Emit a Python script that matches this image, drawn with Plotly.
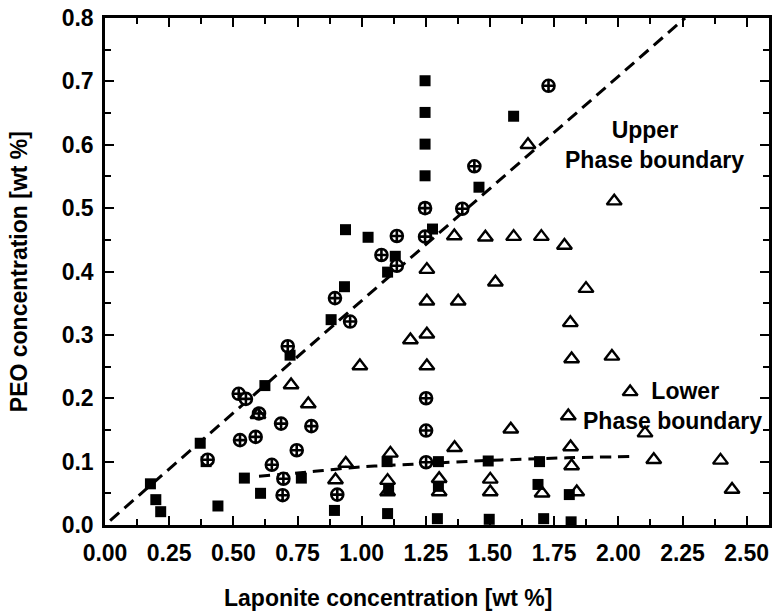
import plotly.graph_objects as go

# ---- data ----
sq_x = [0.177, 0.198, 0.217, 0.371, 0.394, 0.440, 0.543, 0.606, 0.623, 0.721,
        0.765, 0.881, 0.894, 0.933, 0.937, 1.025, 1.101, 1.131, 1.101, 1.099,
        1.105, 1.247, 1.247, 1.247, 1.247, 1.247, 1.276, 1.299, 1.299, 1.295,
        1.457, 1.493, 1.497, 1.592, 1.693, 1.687, 1.709, 1.809, 1.816]
sq_y = [0.065, 0.040, 0.021, 0.129, 0.100, 0.030, 0.074, 0.050, 0.220, 0.268,
        0.074, 0.324, 0.023, 0.376, 0.466, 0.454, 0.399, 0.424, 0.018, 0.100,
        0.056, 0.701, 0.651, 0.601, 0.551, 0.500, 0.467, 0.100, 0.061, 0.010,
        0.533, 0.101, 0.009, 0.645, 0.100, 0.064, 0.010, 0.048, 0.005]

ci_x = [0.400, 0.521, 0.549, 0.526, 0.587, 0.600, 0.650, 0.686, 0.695, 0.692,
        0.712, 0.747, 0.804, 0.905, 0.896, 0.955, 1.077, 1.137, 1.137, 1.247,
        1.247, 1.251, 1.251, 1.251, 1.392, 1.439, 1.728]
ci_y = [0.103, 0.207, 0.199, 0.134, 0.139, 0.176, 0.095, 0.160, 0.073, 0.047,
        0.282, 0.118, 0.156, 0.048, 0.358, 0.321, 0.426, 0.456, 0.409, 0.455,
        0.500, 0.200, 0.149, 0.099, 0.499, 0.566, 0.693]

tr_x = [0.596, 0.725, 0.792, 0.898, 0.938, 0.993, 1.101, 1.101, 1.112, 1.190,
        1.254, 1.254, 1.254, 1.254, 1.302, 1.302, 1.361, 1.362, 1.376, 1.482,
        1.501, 1.501, 1.521, 1.581, 1.592, 1.648, 1.700, 1.703, 1.790, 1.805,
        1.813, 1.818, 1.814, 1.818, 1.838, 1.874, 1.975, 1.984, 2.046, 2.104,
        2.138, 2.398, 2.443]
tr_y = [0.174, 0.221, 0.191, 0.071, 0.097, 0.251, 0.070, 0.052, 0.113, 0.292,
        0.403, 0.353, 0.301, 0.251, 0.073, 0.052, 0.456, 0.122, 0.353, 0.454,
        0.072, 0.052, 0.383, 0.151, 0.455, 0.600, 0.455, 0.050, 0.441, 0.172,
        0.319, 0.262, 0.123, 0.093, 0.052, 0.373, 0.266, 0.511, 0.210, 0.145,
        0.103, 0.102, 0.056]

upper_x = [0.02, 2.26]
upper_y = [0.007, 0.80]

lower_x = [0.60, 0.75, 0.85, 0.95, 1.05, 1.20, 1.35, 1.50, 1.65, 1.80, 2.05]
lower_y = [0.077, 0.082, 0.086, 0.090, 0.093, 0.096, 0.099, 0.102, 0.104, 0.106, 0.108]

x_ticks = [0.00, 0.25, 0.50, 0.75, 1.00, 1.25, 1.50, 1.75, 2.00, 2.25, 2.50]
y_ticks = [0.0, 0.1, 0.2, 0.3, 0.4, 0.5, 0.6, 0.7, 0.8]

FONT = "Arial, 'Liberation Sans', sans-serif"
NB = "\u00a0"

fig = go.Figure()
fig.add_trace(go.Scatter(x=upper_x, y=upper_y, mode="lines",
                         line=dict(color="black", width=3, dash="12px,7px"),
                         hoverinfo="skip"))
fig.add_trace(go.Scatter(x=lower_x, y=lower_y, mode="lines",
                         line=dict(color="black", width=3, dash="11px,7px", shape="spline"),
                         hoverinfo="skip"))
fig.add_trace(go.Scatter(x=sq_x, y=sq_y, mode="markers",
                         marker=dict(symbol="square", size=11, color="black",
                                     line=dict(width=0))))
fig.add_trace(go.Scatter(x=ci_x, y=ci_y, mode="markers",
                         marker=dict(symbol="circle-cross", size=12, color="white",
                                     line=dict(width=2.6, color="black"))))
fig.add_trace(go.Scatter(x=tr_x, y=tr_y, mode="markers",
                         marker=dict(symbol="triangle-up-open", size=13, color="black",
                                     line=dict(width=2.4, color="black"))))

axis_common = dict(
    showline=True, linecolor="black", linewidth=2.5, mirror="allticks",
    ticks="inside", ticklen=9, tickwidth=2, tickcolor="black",
    showgrid=False, zeroline=False,
    tickfont=dict(family=FONT, size=23, color="black", weight="bold"),
)

fig.update_xaxes(range=[0, 2.587], tickvals=x_ticks, tickformat=".2f",
                 minor=dict(ticks="inside", ticklen=6, tickwidth=2, tickcolor="black", dtick=0.125, showgrid=False),
                 ticklabelstandoff=6, **axis_common)
fig.update_yaxes(range=[0, 0.8], tickvals=y_ticks, tickformat=".1f",
                 minor=dict(ticks="inside", ticklen=6, tickwidth=2, tickcolor="black", dtick=0.05, showgrid=False),
                 ticklabelstandoff=4, **axis_common)

tfont = dict(family=FONT, size=23, color="black", weight="bold")
annots = [
    dict(text="Laponite concentration [wt %]", xref="paper", yref="paper",
         x=0.426, y=-0.143, xanchor="center", yanchor="middle", showarrow=False, font=tfont),
    dict(text="PEO concentration [wt %]", xref="paper", yref="paper", textangle=-90,
         x=-0.130, y=0.5, xanchor="center", yanchor="middle", showarrow=False, font=tfont),
    dict(text="Upper" + NB * 3 + "<br>Phase boundary", x=2.142, y=0.599, align="center",
         xanchor="center", yanchor="middle", showarrow=False, font=tfont),
    dict(text=NB * 4 + "Lower<br>Phase boundary", x=2.210, y=0.1875, align="center",
         xanchor="center", yanchor="middle", showarrow=False, font=tfont),
]

fig.update_layout(
    width=776, height=613,
    margin=dict(l=105, r=4, t=18, b=88),
    paper_bgcolor="white", plot_bgcolor="white",
    showlegend=False,
    annotations=annots,
    font=dict(family=FONT, color="black"),
)

fig.write_html("out.html")
